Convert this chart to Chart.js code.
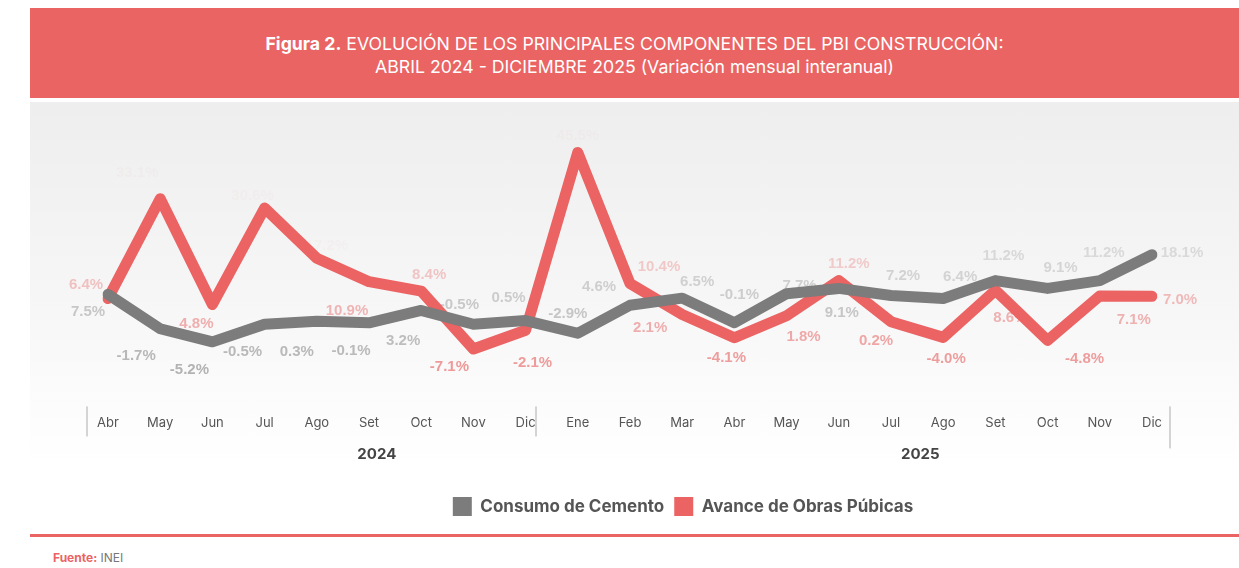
<!DOCTYPE html>
<html>
<head>
<meta charset="utf-8">
<script src="https://cdn.jsdelivr.net/npm/chart.js@4.4.1/dist/chart.umd.min.js"></script>
<style>
  html, body { margin: 0; padding: 0; background: #fff; width: 1239px; height: 568px; overflow: hidden; }
  .header {
    position: absolute; left: 30px; top: 8px; width: 1209px; height: 90px;
    background: #ea6464; color: #fff; text-align: center;
    font-family: Inter, "Noto Sans", sans-serif; font-size: 17.7px; line-height: 23px;
    padding-top: 24px; box-sizing: border-box;
  }
  .header b { font-weight: 700; }
  .panel {
    position: absolute; left: 30px; top: 102px; width: 1209px; height: 428px;
    background: linear-gradient(to bottom, #eeeeee 0%, #f6f6f6 45%, #ffffff 85%, #ffffff 100%);
  }
  .footline { position: absolute; left: 30px; top: 534px; width: 1209px; height: 3px; background: #ea6464; }
  .source { position: absolute; left: 53px; top: 550px; font-family: Inter, sans-serif; font-size: 12px; color: #777; }
  .source b { color: #ea6464; }
</style>
</head>
<body>
<div class="header"><b>Figura 2.</b> EVOLUCIÓN DE LOS PRINCIPALES COMPONENTES DEL PBI CONSTRUCCIÓN:<br>ABRIL 2024 - DICIEMBRE 2025 (Variación mensual interanual)</div>
<div class="panel"><canvas id="myChart" width="1209" height="428"></canvas></div>
<div class="footline"></div>
<div class="source"><b>Fuente:</b> INEI</div>

<script>
// datos
const meses = ['Abr', 'May', 'Jun', 'Jul', 'Ago', 'Set', 'Oct', 'Nov', 'Dic',
               'Ene', 'Feb', 'Mar', 'Abr', 'May', 'Jun', 'Jul', 'Ago', 'Set', 'Oct', 'Nov', 'Dic'];
const anios = ['2024', '2025'];
const cemento = [7.5, -1.7, -5.2, -0.5, 0.3, -0.1, 3.2, -0.5, 0.5,
                 -2.9, 4.6, 6.5, -0.1, 7.7, 9.1, 7.2, 6.4, 11.2, 9.1, 11.2, 18.1];
const obras = [6.4, 33.1, 4.8, 30.6, 17.2, 10.9, 8.4, -7.1, -2.1,
               45.5, 10.4, 2.1, -4.1, 1.8, 11.2, 0.2, -4.0, 8.6, -4.8, 7.1, 7.0];

// desplazamiento de cada etiqueta respecto a su punto (px)
const offCemento = [[-20, 17], [-24, 27], [-23, 28], [-22, 28], [-20, 31], [-18, 28], [-18, 30], [-14, -19], [-17, -23],
                    [-10, -19], [-31, -18], [15, -16], [5, -28], [13, -8], [3, 24], [12, -20], [17, -22], [8, -25], [13, -21], [4, -28], [30, -2]];
const offObras = [[-22, -14], [-23, -26], [-16, 19], [-12, -12], [10, -12], [-22, 29], [8, -16], [-24, 18], [7, 33],
                  [0, -17], [29, -17], [-32, 13], [-8, 20], [17, 21], [10, -17], [-15, 19], [3, 21], [15, 28], [37, 18], [34, 24], [28, 4]];

const GRIS = '#7b7c7b';
const ROJO = '#eb6363';

const etiquetas = {
    id: 'etiquetas',
    afterLayout(chart) {
        // la leyenda del original no está centrada
        chart.legend.left += 53;
        chart.legend.right += 53;
    },
    beforeDatasetsDraw(chart) {
        const ctx = chart.ctx;
        ctx.save();
        ctx.font = 'bold 15px "Liberation Sans", Arial, sans-serif';
        ctx.textAlign = 'center';
        ctx.textBaseline = 'middle';
        chart.data.datasets.forEach((ds, d) => {
            const meta = chart.getDatasetMeta(d);
            const offs = d === 0 ? offCemento : offObras;
            const rgb = d === 0 ? [145, 145, 145] : [232, 105, 105];
            meta.data.forEach((p, i) => {
                const x = p.x + offs[i][0];
                const y = p.y + offs[i][1];
                // las etiquetas se desvanecen hacia arriba
                let a = y < 150 ? 0.03 : 0.3 + (y - 160) * 0.0035;
                a = Math.max(0.03, Math.min(1, a));
                ctx.fillStyle = 'rgba(' + rgb.join(',') + ',' + a.toFixed(2) + ')';
                ctx.fillText(ds.data[i].toFixed(1) + '%', x, y);
            });
        });
        ctx.restore();
    },
    afterDraw(chart) {
        const ctx = chart.ctx;
        const xs = chart.scales.x;
        const base = chart.chartArea.bottom;
        ctx.save();
        ctx.fillStyle = '#d4d4d4';
        [-0.4, 8.2, 20.34].forEach((v, k) => {
            const x = Math.round(xs.getPixelForValue(v));
            ctx.fillRect(x - 1, base + 3, 2, k === 2 ? 42 : 30);
        });
        ctx.fillStyle = '#444';
        ctx.font = 'bold 15px Inter, sans-serif';
        ctx.textAlign = 'center';
        ctx.textBaseline = 'middle';
        ctx.fillText(anios[0], xs.getPixelForValue(5.15), base + 51);
        ctx.fillText(anios[1], xs.getPixelForValue(15.56), base + 51);
        ctx.restore();
    }
};

new Chart(document.getElementById('myChart'), {
    type: 'line',
    data: {
        labels: meses,
        datasets: [{
            label: 'Consumo de Cemento',
            data: cemento,
            borderColor: GRIS,
            backgroundColor: GRIS,
            borderWidth: 11,
            pointRadius: 0,
            borderCapStyle: 'round',
            borderJoinStyle: 'round',
            tension: 0
        }, {
            label: 'Avance de Obras Púbicas',
            data: obras,
            borderColor: ROJO,
            backgroundColor: ROJO,
            borderWidth: 11,
            pointRadius: 0,
            borderCapStyle: 'round',
            borderJoinStyle: 'round',
            tension: 0
        }]
    },
    options: {
        responsive: false,
        animation: false,
        layout: { padding: { left: 78, right: 87, top: 8, bottom: 4 } },
        scales: {
            x: {
                offset: false,
                grid: { display: false },
                border: { display: false },
                ticks: { color: '#555', font: { family: 'Inter', size: 13 }, padding: 4, maxRotation: 0, autoSkip: false },
                afterFit(scale) { scale.height += 52; }
            },
            y: {
                display: false,
                min: -21.67,
                max: 56.85
            }
        },
        plugins: {
            tooltip: { enabled: false },
            legend: {
                position: 'bottom',
                labels: {
                    boxWidth: 19,
                    boxHeight: 19,
                    padding: 10,
                    color: '#555',
                    font: { family: 'Inter', size: 17, weight: 'bold' },
                    generateLabels(chart) {
                        return chart.data.datasets.map((ds, i) => ({
                            text: ds.label,
                            fillStyle: ds.borderColor,
                            strokeStyle: ds.borderColor,
                            lineWidth: 0,
                            fontColor: '#555',
                            datasetIndex: i
                        }));
                    }
                }
            }
        }
    },
    plugins: [etiquetas]
});
</script>
</body>
</html>
